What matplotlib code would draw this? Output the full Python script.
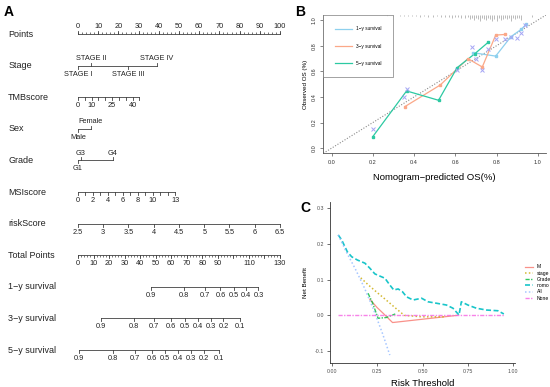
import numpy as np
import matplotlib
matplotlib.use("Agg")
import matplotlib.pyplot as plt

plt.rcParams['font.family'] = ['Liberation Sans', 'DejaVu Sans']

# ---------------- A: nomogram data ----------------
row_names = ['Points', 'Stage', 'TMBscore', 'Sex', 'Grade', 'MSIscore', 'riskScore',
             'Total Points', '1\u2212y survival', '3\u2212y survival', '5\u2212y survival']

points_ticks = list(range(0, 101, 10))
points_minor = list(range(0, 101, 2))

stage_labels = ['STAGE I', 'STAGE II', 'STAGE III', 'STAGE IV']
stage_points = [0, 6.4, 24.8, 39.1]
stage_above = [False, True, False, True]

tmb_ticks = [0, 5, 10, 15, 20, 25, 30, 35, 40, 45]
tmb_labels = [0, 10, 25, 40]
tmb_max_points = 30.4

sex_labels = ['Male', 'Female']
sex_points = [0, 6.3]
sex_above = [False, True]

grade_labels = ['G1', 'G3', 'G4']
grade_points = [0, 1.3, 17.2]
grade_above = [False, True, True]

msi_ticks = list(range(0, 14))
msi_labels = [0, 2, 4, 6, 8, 10, 13]
msi_max_points = 48.1

risk_ticks = [2.5, 3, 3.5, 4, 4.5, 5, 5.5, 6, 6.5]

total_ticks = list(range(0, 131, 2))
total_labels = [0, 10, 20, 30, 40, 50, 60, 70, 80, 90, 110, 130]
total_max = 130

surv1_labels = ['0.9', '0.8', '0.7', '0.6', '0.5', '0.4', '0.3']
surv1_total = [46.7, 68.0, 81.5, 91.7, 100.3, 108.3, 116.1]
surv3_labels = ['0.9', '0.8', '0.7', '0.6', '0.5', '0.4', '0.3', '0.2', '0.1']
surv3_total = [14.6, 36.2, 48.9, 60.0, 68.9, 77.3, 85.3, 93.6, 104.0]
surv5_labels = ['0.9', '0.8', '0.7', '0.6', '0.5', '0.4', '0.3', '0.2', '0.1']
surv5_total = [0.6, 22.7, 36.6, 47.4, 55.9, 64.5, 72.6, 81.0, 90.8]

# ---------------- B: calibration data ----------------
s1_x = [0.684, 0.796, 0.870, 0.919, 0.943]
s1_y = [0.746, 0.719, 0.871, 0.927, 0.966]
s3_x = [0.356, 0.527, 0.661, 0.731, 0.796, 0.840]
s3_y = [0.325, 0.493, 0.699, 0.634, 0.883, 0.888]
s5_x = [0.200, 0.364, 0.519, 0.609, 0.695, 0.759]
s5_y = [0.090, 0.447, 0.374, 0.629, 0.738, 0.826]
xm_x = [0.20, 0.352, 0.364, 0.609, 0.682, 0.70, 0.731, 0.759, 0.796, 0.84, 0.87, 0.899, 0.92, 0.938]
xm_y = [0.153, 0.40, 0.46, 0.61, 0.793, 0.70, 0.61, 0.776, 0.85, 0.85, 0.865, 0.863, 0.90, 0.959]
rug_x = [0.27, 0.30, 0.33, 0.35, 0.37, 0.39, 0.41, 0.43, 0.45, 0.47, 0.49, 0.51, 0.53, 0.55,
         0.57, 0.585, 0.60, 0.615, 0.63, 0.645, 0.66, 0.67, 0.68, 0.69, 0.70, 0.71, 0.72,
         0.73, 0.74, 0.75, 0.76, 0.77, 0.78, 0.79, 0.80, 0.81, 0.82, 0.83, 0.84, 0.85, 0.86,
         0.87, 0.88, 0.89, 0.90, 0.91, 0.92, 0.97]
rug_h = [0.008, 0.008, 0.008, 0.008, 0.01, 0.008, 0.01, 0.012, 0.01, 0.012,
         0.015, 0.01, 0.012, 0.015, 0.012, 0.02, 0.015, 0.012, 0.02, 0.025,
         0.015, 0.035, 0.02, 0.04, 0.025, 0.03, 0.045, 0.02, 0.03, 0.04,
         0.025, 0.035, 0.05, 0.03, 0.045, 0.02, 0.04, 0.03, 0.02, 0.035,
         0.025, 0.045, 0.02, 0.03, 0.02, 0.025, 0.04, 0.015]

# ---------------- C: decision curve data ----------------
nomo_x = [0.036, 0.055, 0.086, 0.11, 0.141, 0.183, 0.21, 0.238, 0.265, 0.293, 0.32, 0.342,
          0.366, 0.39, 0.412, 0.448, 0.495, 0.531, 0.577, 0.632, 0.668, 0.701, 0.714, 0.75,
          0.797, 0.852, 0.915, 0.948]
nomo_y = [0.225, 0.211, 0.178, 0.164, 0.155, 0.146, 0.132, 0.116, 0.110, 0.104, 0.085, 0.071,
          0.074, 0.066, 0.052, 0.043, 0.048, 0.038, 0.034, 0.029, 0.020, 0.001, 0.038, 0.029,
          0.020, 0.015, 0.013, 0.004]
all_x = [0.036, 0.08, 0.13, 0.18, 0.23, 0.28, 0.32]
all_y = [0.225, 0.178, 0.130, 0.077, 0.017, -0.051, -0.111]
m_x = [0.21, 0.25, 0.285, 0.335, 0.69]
m_y = [0.045, 0.022, 0.005, -0.02, 0.0]
stage_x = [0.16, 0.20, 0.25, 0.30, 0.35, 0.40, 0.50, 0.62]
stage_y = [0.105, 0.086, 0.064, 0.043, 0.021, 0.0, -0.004, -0.004]
grade_x = [0.20, 0.225, 0.255, 0.30, 0.35]
grade_y = [0.062, 0.035, -0.008, -0.006, 0.004]
none_x = [0.036, 0.948]
none_y = [0.0, 0.0]

fig = plt.figure(figsize=(5.5, 3.87), dpi=100)

# ================= panel A =================
axA = fig.add_axes([0, 0, 300 / 550, 1])
axA.set_xlim(-38.6, 109.9)
axA.set_ylim(11.17, -1.076)
axA.axis('off')

LC = '#404040'
MAJ, MIN = 0.095, 0.055
LBL = 5.3


def draw_row(y, ticks, labels, label_pos, side='below', minor=None, above=None):
    axA.plot([min(ticks), max(ticks)], [y, y], color=LC, lw=0.6)
    sgn = -1 if side == 'above' else 1
    if minor is not None:
        axA.vlines(minor, y, y + sgn * MIN, color=LC, lw=0.5)
    for i, t in enumerate(ticks):
        s = sgn
        if above is not None:
            s = -1 if above[i] else 1
        axA.plot([t, t], [y, y + s * MAJ], color=LC, lw=0.6)
    for i, (p, lab) in enumerate(zip(label_pos, labels)):
        up = (side == 'above') if above is None else above[i]
        if up:
            axA.text(p, y - 0.12, lab, ha='center', va='bottom', fontsize=LBL, color='#222222')
        else:
            axA.text(p, y + 0.16, lab, ha='center', va='top', fontsize=LBL, color='#222222')


for i, name in enumerate(row_names):
    axA.text(-34.6, i, name, ha='left', va='center', fontsize=6.5, color='#222222')

draw_row(0, points_ticks, [str(v) for v in points_ticks], points_ticks, side='above',
         minor=points_minor)
draw_row(1, stage_points, stage_labels, stage_points, above=stage_above)
tmb_pos = [v / tmb_ticks[-1] * tmb_max_points for v in tmb_ticks]
draw_row(2, tmb_pos, [str(v) for v in tmb_labels],
         [v / tmb_ticks[-1] * tmb_max_points for v in tmb_labels])
draw_row(3, sex_points, sex_labels, sex_points, above=sex_above)
draw_row(4, grade_points, grade_labels, grade_points, above=grade_above)
msi_pos = [v / msi_ticks[-1] * msi_max_points for v in msi_ticks]
draw_row(5, msi_pos, [str(v) for v in msi_labels],
         [v / msi_ticks[-1] * msi_max_points for v in msi_labels])
risk_pos = [(v - risk_ticks[0]) / (risk_ticks[-1] - risk_ticks[0]) * 100 for v in risk_ticks]
draw_row(6, risk_pos, [f'{v:g}' for v in risk_ticks], risk_pos)
tot_major = [v * 100 / total_max for v in range(0, 131, 10)]
draw_row(7, tot_major, [str(v) for v in total_labels],
         [v * 100 / total_max for v in total_labels],
         minor=[v * 100 / total_max for v in total_ticks])
for r, (labs, tot) in zip([8, 9, 10], [(surv1_labels, surv1_total), (surv3_labels, surv3_total),
                                       (surv5_labels, surv5_total)]):
    pos = [v * 100 / total_max for v in tot]
    draw_row(r, pos, labs, pos)

# ================= panel B =================
axB = fig.add_axes([323.3 / 550, 1 - 153.3 / 387, (546 - 323.3) / 550, (153.3 - 15) / 387])
axB.set_xlim(-0.04, 1.04)
axB.set_ylim(-0.04, 1.04)
axB.axline((0, 0), slope=1, color='#8a8a8a', ls=(0, (1, 1.5)), lw=0.8, zorder=1)
c1, c3, c5, cx = '#8ED0EE', '#FBA888', '#2CC9A2', '#A6A6F5'
axB.plot(s1_x, s1_y, '-', color=c1, lw=0.9, label='1\u2212y survival')
axB.plot(s3_x, s3_y, '-', color=c3, lw=0.9, label='3\u2212y survival')
axB.plot(s5_x, s5_y, '-', color=c5, lw=0.9, label='5\u2212y survival')
axB.plot(s1_x, s1_y, 's', color=c1, ms=1.6)
axB.plot(s3_x, s3_y, 's', color=c3, ms=1.6)
axB.plot(s5_x, s5_y, 's', color=c5, ms=1.6)
axB.plot(xm_x, xm_y, 'x', color=cx, ms=2.6, mew=0.7)
axB.vlines(rug_x, [1.04 - h for h in rug_h], 1.04, color='#888888', lw=0.4)
for s in ['top', 'right']:
    axB.spines[s].set_visible(False)
for s in ['left', 'bottom']:
    axB.spines[s].set_linewidth(0.6)
    axB.spines[s].set_color('#555555')
axB.set_xticks([0, 0.2, 0.4, 0.6, 0.8, 1.0])
axB.set_yticks([0, 0.2, 0.4, 0.6, 0.8, 1.0])
axB.set_xticklabels(['0.0', '0.2', '0.4', '0.6', '0.8', '1.0'])
axB.set_yticklabels(['0.0', '0.2', '0.4', '0.6', '0.8', '1.0'], rotation=90, va='center')
axB.tick_params(labelsize=4, length=2, width=0.5, pad=2.5, color='#555555', labelcolor='#333333')
axB.set_xlabel('Nomogram\u2212predicted OS(%)', fontsize=6.8, labelpad=6)
axB.set_ylabel('Observed OS (%)', fontsize=4.5, labelpad=3)
legB = axB.legend(loc='upper left', bbox_to_anchor=(0.0, 1.0), fontsize=3.4, frameon=True,
                  fancybox=False, edgecolor='#777777', borderpad=2.4, labelspacing=2.6,
                  handlelength=3.6, handletextpad=1.0, borderaxespad=0)
legB.get_frame().set_linewidth(0.6)

# ================= panel C =================
axC = fig.add_axes([330 / 550, 1 - 363.3 / 387, 185 / 550, (363.3 - 201.7) / 387])
axC.set_xlim(-0.0094, 1.0094)
axC.set_ylim(-0.134, 0.318)
al = 0.8
axC.plot(m_x, m_y, '-', color='#F8766D', lw=0.9, alpha=al, label='M')
axC.plot(stage_x, stage_y, ls=(0, (1, 1.5)), color='#C9A800', lw=1.1, alpha=al, label='stage')
axC.plot(grade_x, grade_y, ls=(0, (3, 1, 1, 1)), color='#00BA38', lw=1.0, alpha=al, label='Grade')
axC.plot(nomo_x, nomo_y, ls=(0, (3, 1.5)), color='#00BFC4', lw=1.2, alpha=0.9, label='nomo')
axC.plot(all_x, all_y, ls=(0, (1, 1.5)), color='#8FB8FF', lw=1.1, alpha=al, label='All')
axC.plot(none_x, none_y, ls=(0, (3, 1, 1, 1)), color='#F564E3', lw=1.0, alpha=al, label='None')
for s in ['top', 'right']:
    axC.spines[s].set_visible(False)
for s in ['left', 'bottom']:
    axC.spines[s].set_linewidth(0.6)
    axC.spines[s].set_color('#333333')
axC.set_xticks([0, 0.25, 0.5, 0.75, 1.0])
axC.set_xticklabels(['0.00', '0.25', '0.50', '0.75', '1.00'])
axC.set_yticks([-0.1, 0, 0.1, 0.2, 0.3])
axC.set_yticklabels(['-0.1', '0.0', '0.1', '0.2', '0.3'])
axC.tick_params(labelsize=3.8, length=2, width=0.5, pad=2, color='#333333', labelcolor='#4D4D4D')
axC.set_xlabel('Risk Threshold', fontsize=6.8, labelpad=4)
axC.set_ylabel('Net Benefit', fontsize=4.5, labelpad=5)
axC.legend(loc='center left', bbox_to_anchor=(1.03, 0.50), fontsize=3.6, frameon=False,
           handlelength=1.6, handletextpad=0.8, labelspacing=0.25)

# panel letters
fig.text(4 / 550, 1 - 12.5 / 387, 'A', fontsize=10, fontweight='bold', va='center', ha='left')
fig.text(295 / 550, 1 - 12.5 / 387, 'B', fontsize=10, fontweight='bold', va='center', ha='left')
fig.text(300 / 550, 1 - 207.5 / 387, 'C', fontsize=10, fontweight='bold', va='center', ha='left')

fig.savefig('out.png', dpi=100)
